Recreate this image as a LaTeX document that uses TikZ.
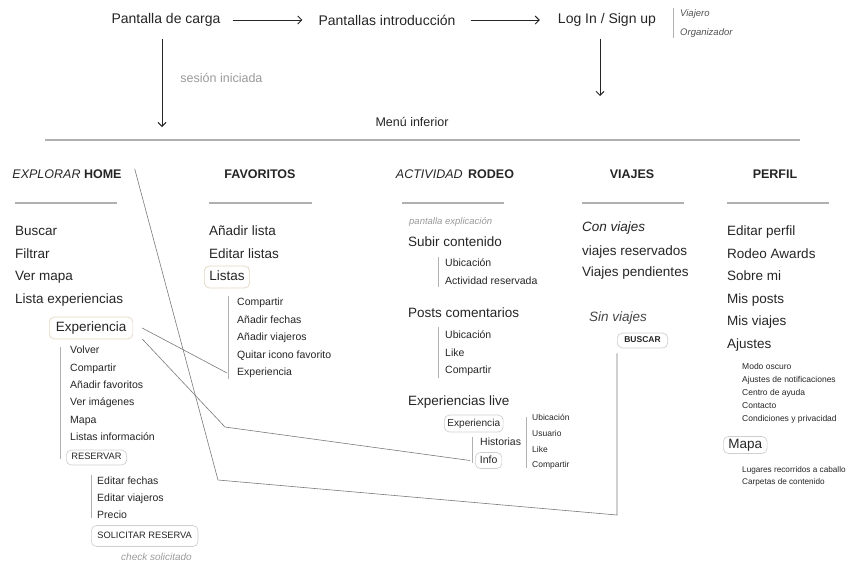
\documentclass[tikz,border=0pt]{standalone}
\usepackage{fontspec}
\setmainfont{Liberation Sans}
\usetikzlibrary{arrows.meta}
\definecolor{ink}{HTML}{252525}
\definecolor{soft}{HTML}{9A9A9A}
\definecolor{rulegray}{HTML}{B0B0B0}
\definecolor{beige}{HTML}{E2D6BF}
\definecolor{pillgray}{HTML}{CFCFCF}
\definecolor{wire}{HTML}{7A7A7A}
\newcommand{\fs}[1]{\fontsize{#1}{#1}\selectfont}

\begin{document}
\begin{tikzpicture}[x=1pt,y=-1pt,
  every node/.style={text=ink, inner sep=2pt},
  top/.style={font=\fs{14}},
  head/.style={font=\fs{12.5}\bfseries},
  item/.style={anchor=west, font=\fs{13.5}, text height=10pt, text depth=3pt},
  sub/.style={anchor=west, font=\fs{10.5}, text height=7.7pt, text depth=2.3pt},
  tiny/.style={anchor=west, font=\fs{8.5}, text height=6.2pt, text depth=1.8pt},
  note/.style={anchor=west, font=\fs{9.5}\itshape, text=soft},
  pill/.style={draw=#1, rounded corners=5pt, line width=0.7pt, inner xsep=5pt, inner ysep=4.5pt},
  pill/.default=pillgray,
  arr/.style={-{Straight Barb[length=4pt,width=8pt]}, line width=0.9pt, ink},
  bar/.style={rulegray, line width=1pt},
  hrule/.style={rulegray, line width=1.5pt},
  link/.style={wire, line width=0.6pt}]
\useasboundingbox (0,0) rectangle (848,563);

\node[top] (carga) at (166,20) {Pantalla de carga};
\node[top] (intro) at (387,20) {Pantallas introducción};
\node[top] (login) at (607,20) {Log In / Sign up};
\node[note, font=\fs{9.5}\itshape, text=ink!80] (viajero) at (678,14) {Viajero};
\node[note, font=\fs{9.5}\itshape, text=ink!80] (organizador) at (678,33) {Organizador};
\draw[bar] (673,8) -- (673,38);

\draw[arr, shorten <=10pt, shorten >=14pt] (carga) -- (intro);
\draw[arr, shorten <=13pt, shorten >=16pt] (intro) -- (login);
\coordinate (homein) at (162,127);
\coordinate (menuin) at (600,96);
\draw[arr, shorten <=10pt] (carga.south -| homein) -- node[midway, anchor=west, xshift=16pt, font=\fs{12.5}, text=soft] {sesión iniciada} (homein);
\draw[arr, shorten <=10pt] (login.south -| menuin) -- (menuin);

\node[font=\fs{12.5}] (menu) at (412,122) {Menú inferior};
\draw[hrule] (45,140) -- (800,140);

\node[head] (home) at (67,174) {\textit{\mdseries EXPLORAR} HOME};
\node[head] (favoritos) at (260,174) {FAVORITOS};
\node[head] (rodeo) at (455,174) {\textit{\mdseries ACTIVIDAD}\, RODEO};
\node[head] (viajes) at (632,174) {VIAJES};
\node[head] (perfil) at (775,174) {PERFIL};
\draw[hrule] (15,203) -- (117,203);
\draw[hrule] (209,203) -- (312,203);
\draw[hrule] (402,203) -- (504,203);
\draw[hrule] (582,203) -- (684,203);
\draw[hrule] (727,203) -- (829,203);

\node[item] (buscar) at (13,232) {Buscar};
\node[item] (filtrar) at ([yshift=-22.5pt]buscar.west) {Filtrar};
\node[item] (vermapa) at ([yshift=-22.5pt]filtrar.west) {Ver mapa};
\node[item] (listaexp) at ([yshift=-23pt]vermapa.west) {Lista experiencias};
\node[item, pill=beige, inner xsep=6.5pt] (exp) at (49,328) {Experiencia};
\node[sub] (volver) at (68,351) {Volver};
\node[sub] (compartir) at ([yshift=-17.4pt]volver.west) {Compartir};
\node[sub] (addfav) at ([yshift=-17.4pt]compartir.west) {Añadir favoritos};
\node[sub] (imagenes) at ([yshift=-17.4pt]addfav.west) {Ver imágenes};
\node[sub] (mapa) at ([yshift=-17.4pt]imagenes.west) {Mapa};
\node[sub] (listinfo) at ([yshift=-17.4pt]mapa.west) {Listas información};
\node[tiny, font=\fs{9.3}, pill, inner ysep=3.5pt] (reservar) at (66,457.5) {RESERVAR};
\draw[bar] (60,347) -- (60,459);
\node[sub] (edfechas) at (95,482) {Editar fechas};
\node[sub] (edviajeros) at ([yshift=-17pt]edfechas.west) {Editar viajeros};
\node[sub] (precio) at ([yshift=-17pt]edviajeros.west) {Precio};
\draw[bar] (91,475) -- (91,518);
\node[tiny, font=\fs{9.3}, pill, inner xsep=6pt, inner ysep=6.5pt] (solicitar) at (91,536) {SOLICITAR RESERVA};
\node[note, font=\fs{10}\itshape] (check) at (119,557) {check solicitado};

\node[item] (addlista) at (207,232) {Añadir lista};
\node[item] (edlistas) at ([yshift=-23pt]addlista.west) {Editar listas};
\node[item, pill=beige] (listas) at (204,277) {Listas};
\draw[bar] (228,296) -- (228,379);
\node[sub] (favcomp) at (235,303) {Compartir};
\node[sub] (favfechas) at ([yshift=-17.5pt]favcomp.west) {Añadir fechas};
\node[sub] (favviaj) at ([yshift=-17.5pt]favfechas.west) {Añadir viajeros};
\node[sub] (quitar) at ([yshift=-17.5pt]favviaj.west) {Quitar icono favorito};
\node[sub] (favexp) at ([yshift=-17.5pt]quitar.west) {Experiencia};

\node[note] (explica) at (407,222) {pantalla explicación};
\node[item] (subir) at (406,243) {Subir contenido};
\draw[bar] (438,257) -- (438,287);
\node[sub] (sububic) at (443,264) {Ubicación};
\node[sub] (subact) at ([yshift=-18pt]sububic.west) {Actividad reservada};
\node[item] (posts) at (406,314) {Posts comentarios};
\draw[bar] (438,327) -- (438,378);
\node[sub] (postubic) at (443,336) {Ubicación};
\node[sub] (postlike) at ([yshift=-17.5pt]postubic.west) {Like};
\node[sub] (postcomp) at ([yshift=-17.5pt]postlike.west) {Compartir};
\node[item] (live) at (406,402) {Experiencias live};
\node[sub, font=\fs{10.1}, pill, inner xsep=3pt, inner ysep=3.5pt] (liveexp) at (444,423.5) {Experiencia};
\draw[bar] (472,437) -- (472,463);
\node[sub] (historias) at (478,443) {Historias};
\node[sub, pill, inner xsep=4.5pt, inner ysep=3pt] (info) at (475,460.5) {Info};
\draw[bar] (526,417) -- (526,468);
\node[tiny] (liveubic) at (530,418) {Ubicación};
\node[tiny] (liveusu) at ([yshift=-16pt]liveubic.west) {Usuario};
\node[tiny] (livelike) at ([yshift=-16pt]liveusu.west) {Like};
\node[tiny] (livecomp) at ([yshift=-15pt]livelike.west) {Compartir};

\node[item, font=\fs{13.5}\itshape] (conviajes) at (580,228) {Con viajes};
\node[item] (reservados) at (580,252) {viajes reservados};
\node[item] (pendientes) at ([yshift=-21pt]reservados.west) {Viajes pendientes};
\node[item, font=\fs{13.5}\itshape, text=ink!85] (sinviajes) at (587,318) {Sin viajes};
\node[tiny, font=\fs{8.5}\bfseries, pill, inner xsep=7pt, inner ysep=3.5pt] (buscarbtn) at (617,340.5) {BUSCAR};

\node[item] (edperfil) at (725,232) {Editar perfil};
\node[item] (awards) at ([yshift=-22.6pt]edperfil.west) {Rodeo Awards};
\node[item] (sobremi) at ([yshift=-22.6pt]awards.west) {Sobre mi};
\node[item] (misposts) at ([yshift=-22.6pt]sobremi.west) {Mis posts};
\node[item] (misviajes) at ([yshift=-22.6pt]misposts.west) {Mis viajes};
\node[item] (ajustes) at ([yshift=-22.6pt]misviajes.west) {Ajustes};
\node[tiny] (oscuro) at (740,367) {Modo oscuro};
\node[tiny] (notif) at ([yshift=-13pt]oscuro.west) {Ajustes de notificaciones};
\node[tiny] (ayuda) at ([yshift=-13pt]notif.west) {Centro de ayuda};
\node[tiny] (contacto) at ([yshift=-13pt]ayuda.west) {Contacto};
\node[tiny] (privacidad) at ([yshift=-13pt]contacto.west) {Condiciones y privacidad};
\node[item, pill, inner ysep=2pt] (perfilmapa) at (723,445) {Mapa};
\node[tiny, font=\fs{8.2}] (lugares) at (740,470) {Lugares recorridos a caballo};
\node[tiny, font=\fs{8.2}] (carpetas) at ([yshift=-12.5pt]lugares.west) {Carpetas de contenido};

\coordinate (k1) at (218,480);
\coordinate (k2) at (617,515);
\coordinate (k3) at (225,427);
\draw[link] ([xshift=11pt,yshift=5pt]home.east) -- (k1) -- (k2) -- ([yshift=-5pt]buscarbtn.south west);
\draw[link] ([xshift=9pt]exp.east) -- ([xshift=-8pt]favexp.west);
\draw[link] ([xshift=9pt,yshift=-11pt]exp.east) -- (k3) -- ([xshift=-5pt]info.west);
\end{tikzpicture}
\end{document}
